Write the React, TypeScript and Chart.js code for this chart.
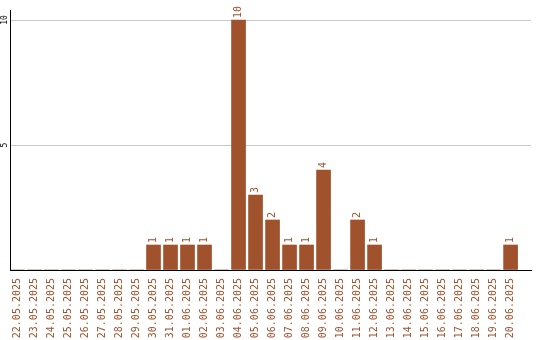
import React, { useEffect, useRef } from "react";
import { Chart, registerables } from "chart.js";

Chart.register(...registerables);

const categories = [
  "22.05.2025", "23.05.2025", "24.05.2025", "25.05.2025", "26.05.2025",
  "27.05.2025", "28.05.2025", "29.05.2025", "30.05.2025", "31.05.2025",
  "01.06.2025", "02.06.2025", "03.06.2025", "04.06.2025", "05.06.2025",
  "06.06.2025", "07.06.2025", "08.06.2025", "09.06.2025", "10.06.2025",
  "11.06.2025", "12.06.2025", "13.06.2025", "14.06.2025", "15.06.2025",
  "16.06.2025", "17.06.2025", "18.06.2025", "19.06.2025", "20.06.2025",
];
const values = [
  0, 0, 0, 0, 0, 0, 0, 0, 1, 1,
  1, 1, 0, 10, 3, 2, 1, 1, 4, 0,
  2, 1, 0, 0, 0, 0, 0, 0, 0, 1,
];
const yTicks = [0, 5, 10];

const BAR = "#a0522d";
const MONO = "'DejaVu Sans Mono', monospace";

const valueLabels = {
  id: "valueLabels",
  afterDatasetsDraw(chart: any) {
    const ctx = chart.ctx;
    const meta = chart.getDatasetMeta(0);
    ctx.save();
    ctx.fillStyle = BAR;
    ctx.font = `10px ${MONO}`;
    ctx.textAlign = "left";
    ctx.textBaseline = "middle";
    meta.data.forEach((el: any, i: number) => {
      const v = values[i];
      if (!v) return;
      ctx.save();
      ctx.translate(el.x, el.y - 2);
      ctx.rotate(-Math.PI / 2);
      ctx.fillText(String(v), 0, 0);
      ctx.restore();
    });
    ctx.restore();
  },
};

export default function App() {
  const ref = useRef<HTMLCanvasElement>(null);
  useEffect(() => {
    document.body.style.margin = "0";
    const chart = new Chart(ref.current!, {
      type: "bar",
      data: {
        datasets: [
          {
            data: values.map((v, i) => ({ x: i, y: v })),
            backgroundColor: BAR,
            barThickness: 14,
          },
        ],
      },
      options: {
        animation: false,
        responsive: false,
        layout: { padding: { top: 10, right: 9, left: 0, bottom: 0 } },
        plugins: { legend: { display: false }, tooltip: { enabled: false } },
        scales: {
          x: {
            type: "linear",
            offset: false,
            min: -0.44,
            max: 30.2,
            grid: { display: false, drawTicks: false, offset: false },
            border: { display: true, color: "#000", width: 1 },
            afterBuildTicks: (s: any) => {
              s.ticks = categories.map((_, i) => ({ value: i }));
            },
            afterFit: (s: any) => {
              s.height = 70;
              s.paddingLeft = 0;
              s.paddingRight = 0;
            },
            ticks: {
              autoSkip: false,
              minRotation: 90,
              maxRotation: 90,
              padding: 8,
              color: BAR,
              font: { family: MONO, size: 10 },
              callback: (v: any) => categories[v] ?? "",
            },
          },
          y: {
            min: 0,
            max: 10.4,
            afterBuildTicks: (s: any) => {
              s.ticks = yTicks.map((v) => ({ value: v }));
            },
            afterFit: (s: any) => {
              s.width = 10;
              s.paddingTop = 0;
              s.paddingBottom = 0;
            },
            grid: {
              drawTicks: false,
              color: (c: any) => (c.tick && c.tick.value === 0 ? "rgba(0,0,0,0)" : "#c8c8c8"),
            },
            border: { display: true, color: "#000", width: 1 },
            ticks: {
              minRotation: 90,
              maxRotation: 90,
              crossAlign: "center",
              padding: 0,
              color: "#000",
              font: { family: MONO, size: 8 },
              callback: (v: any) => (v === 0 ? "" : String(v)),
            },
          },
        },
      },
      plugins: [valueLabels],
    });
    return () => chart.destroy();
  }, []);
  return (
    <div style={{ width: 540, height: 340 }}>
      <canvas ref={ref} width={540} height={340} style={{ display: "block" }} />
    </div>
  );
}
